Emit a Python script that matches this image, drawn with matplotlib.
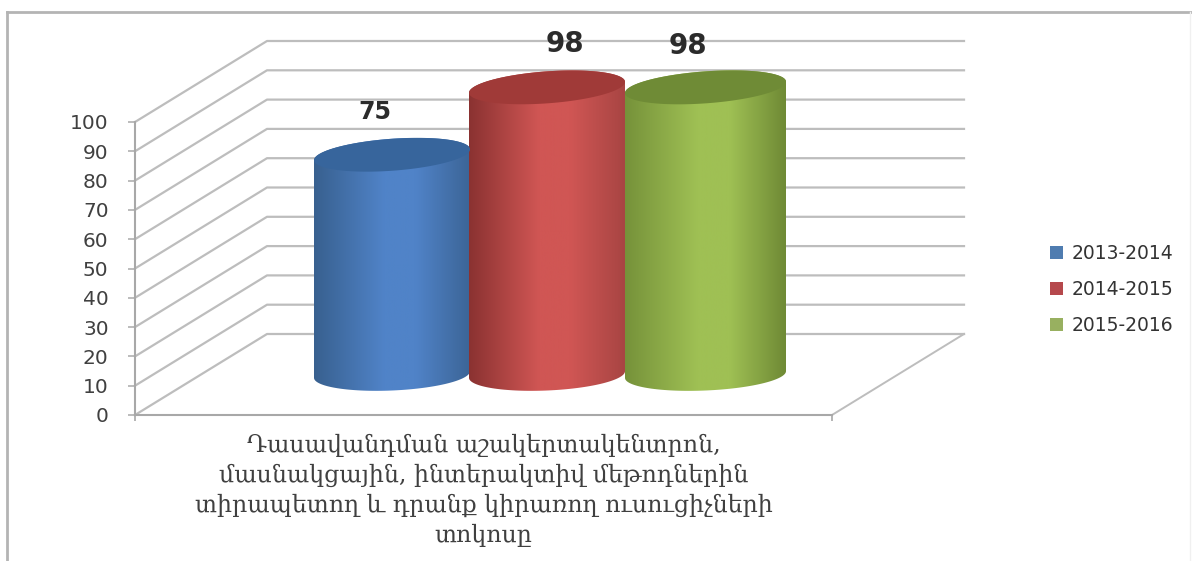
#coding=utf-8
import numpy as np
import matplotlib
matplotlib.use('Agg')
import matplotlib.pyplot as plt
from matplotlib.colors import LinearSegmentedColormap
from matplotlib.lines import Line2D
from matplotlib.patches import Patch, Polygon

years = ['2013-2014', '2014-2015', '2015-2016']
values = [75, 98, 98]
y_ticks = [0, 10, 20, 30, 40, 50, 60, 70, 80, 90, 100]
category = ('Դասավանդման աշակերտակենտրոն,\n'
            'մասնակցային, ինտերակտիվ մեթոդներին\n'
            'տիրապետող և դրանք կիրառող ուսուցիչների\n'
            'տոկոսը')

# edge, middle, edge, top, legend
colors = [('#38608f', '#5083c8', '#3c6597', '#37659c', '#4f7cb0'),
          ('#8a3231', '#d05654', '#a84543', '#a03a38', '#b5484c'),
          ('#76923a', '#9fc054', '#6f8a35', '#6f8b36', '#98b060')]

W, H = 1192, 561
fig = plt.figure(figsize=(W / 100, H / 100), dpi=100, facecolor='white')

# axes = front plane of the 3d box, one data unit in x is one pixel
ax = fig.add_axes([135 / W, 1 - 415 / H, 697 / W, 293 / H])
ax.patch.set_alpha(0)
py = 100 / 293  # value units per pixel
depth_x, depth_y = 132, 81 * py

grid = '#bdbdbd'
for v in y_ticks:
    ax.plot([0, depth_x, 697 + depth_x], [v, v + depth_y, v + depth_y],
            color=grid, lw=1.6, clip_on=False, zorder=1)
ax.plot([697, 697 + depth_x], [0, depth_y], color=grid, lw=1.4, clip_on=False, zorder=1)


def cylinder(cx, a, value, cols):
    b, s = 16, 0.07
    cy0 = depth_y / 2
    cy1 = depth_y / 2 + value
    t = np.linspace(np.pi, 0, 80)
    top_x = cx + a * np.cos(t)
    top_y = cy1 + (b * np.sin(t) + s * a * np.cos(t)) * py
    t2 = np.linspace(0, -np.pi, 80)
    bot_x = cx + a * np.cos(t2)
    bot_y = cy0 + (b * np.sin(t2) + s * 0.6 * a * np.cos(t2)) * py
    outline = np.column_stack([np.r_[top_x, bot_x], np.r_[top_y, bot_y]])
    body = Polygon(outline, closed=True, transform=ax.transData, fc='none', ec='none')
    ax.add_patch(body)
    body.set_clip_on(False)
    cmap = LinearSegmentedColormap.from_list(
        'c', [(0, cols[0]), (0.45, cols[1]), (0.65, cols[1]), (1, cols[2])])
    im = ax.imshow(np.linspace(0, 1, 256).reshape(1, -1), cmap=cmap, aspect='auto',
                   extent=[cx - a, cx + a, bot_y.min(), top_y.max()], zorder=3)
    im.set_clip_box(fig.bbox)
    im.set_clip_path(body)
    # top of the cylinder
    t3 = np.linspace(0, 2 * np.pi, 160)
    ax.fill(cx + a * np.cos(t3),
            cy1 + (b * np.sin(t3) + s * a * np.cos(t3)) * py,
            color=cols[3], lw=0, zorder=3.1, clip_on=False)


centers = [257, 412, 570.5]
half_widths = [78, 78, 80.5]
label_shift = [(-12, 22), (13, 21), (-13, 20)]
label_size = [17, 20, 20]
for i in range(3):
    cylinder(centers[i], half_widths[i], values[i], colors[i])
    ax.annotate(str(values[i]), (centers[i], values[i] + depth_y / 2),
                xytext=label_shift[i], textcoords='offset points', ha='center', va='bottom',
                fontsize=label_size[i], fontweight='bold', color='#2b2b2b',
                annotation_clip=False, zorder=5)

ax.set_xlim(0, 697)
ax.set_ylim(0, 100)
for side in ['top', 'right']:
    ax.spines[side].set_visible(False)
for side in ['left', 'bottom']:
    ax.spines[side].set_color('#a8a8a8')
    ax.spines[side].set_linewidth(1.5)

ax.set_yticks(y_ticks)
ax.tick_params(axis='y', length=5, width=1.2, color='#b0b0b0', pad=14,
               labelsize=14.5, labelcolor='#404040')
ax.set_xticks([0, 697])
ax.set_xticklabels(['', ''])
ax.tick_params(axis='x', which='major', length=4, width=1.2, color='#a8a8a8')
ax.set_xticks([348.5], minor=True)
ax.set_xticklabels([category], minor=True, family=['DejaVu Serif', 'DejaVu Sans'],
                   fontsize=17, color='#404040', linespacing=1.38)
ax.tick_params(axis='x', which='minor', length=0, pad=13.5)

handles = [Patch(fc=c[4], ec='none', label=y) for c, y in zip(colors, years)]
fig.legend(handles=handles, loc='center left', bbox_to_anchor=(1050 / W, 1 - 289.5 / H),
           frameon=False, fontsize=13.5, labelcolor='#333333', handlelength=0.7,
           handleheight=0.7, handletextpad=0.45, labelspacing=0.92, borderpad=0, borderaxespad=0)

# chart frame
border = '#b4b4b4'
fig.add_artist(Line2D([7 / W, 7 / W], [0, 1 - 12 / H], color=border, lw=2))
fig.add_artist(Line2D([7 / W, 1], [1 - 12 / H, 1 - 12 / H], color=border, lw=2))
fig.add_artist(Line2D([1190 / W, 1190 / W], [0, 1 - 12 / H], color='#f0f0f0', lw=1))

fig.savefig('out.png', dpi=100)
